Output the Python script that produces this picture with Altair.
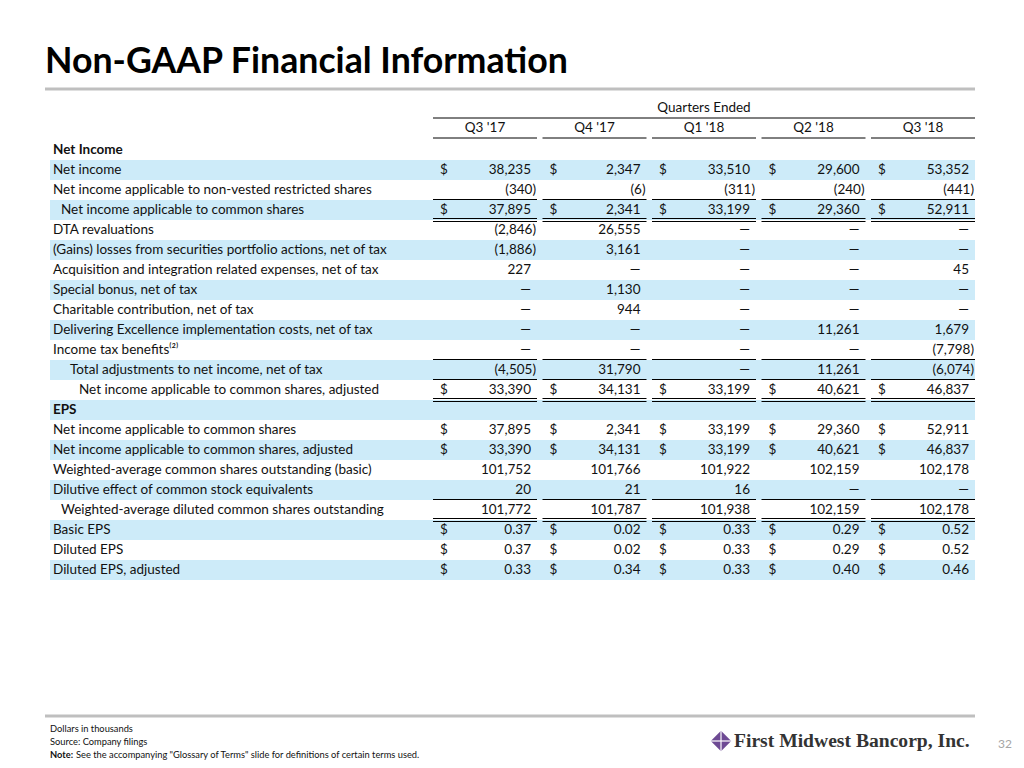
import altair as alt
import pandas as pd

# ---------------- data ----------------
quarters = ["Q3 '17", "Q4 '17", "Q1 '18", "Q2 '18", "Q3 '18"]

labels = [
    "Net Income",
    "Net income",
    "Net income applicable to non-vested restricted shares",
    "Net income applicable to common shares",
    "DTA revaluations",
    "(Gains) losses from securities portfolio actions, net of tax",
    "Acquisition and integration related expenses, net of tax",
    "Special bonus, net of tax",
    "Charitable contribution, net of tax",
    "Delivering Excellence implementation costs, net of tax",
    "Income tax benefits\u207d\u00b2\u207e",
    "Total adjustments to net income, net of tax",
    "Net income applicable to common shares, adjusted",
    "EPS",
    "Net income applicable to common shares",
    "Net income applicable to common shares, adjusted",
    "Weighted-average common shares outstanding (basic)",
    "Dilutive effect of common stock equivalents",
    "Weighted-average diluted common shares outstanding",
    "Basic EPS",
    "Diluted EPS",
    "Diluted EPS, adjusted",
]
bold_rows = [0, 13]
indent_level = {3: 1, 11: 2, 12: 3, 18: 1}
dollar_rows = [1, 3, 12, 14, 15, 19, 20, 21]
eps_rows = [19, 20, 21]
single_under_rows = [2, 10, 11, 17]
double_under_rows = [3, 12, 18]

q3_17 = [None, 38235, -340, 37895, -2846, -1886, 227, 0, 0, 0, 0, -4505, 33390,
         None, 37895, 33390, 101752, 20, 101772, 0.37, 0.37, 0.33]
q4_17 = [None, 2347, -6, 2341, 26555, 3161, 0, 1130, 944, 0, 0, 31790, 34131,
         None, 2341, 34131, 101766, 21, 101787, 0.02, 0.02, 0.34]
q1_18 = [None, 33510, -311, 33199, 0, 0, 0, 0, 0, 0, 0, 0, 33199,
         None, 33199, 33199, 101922, 16, 101938, 0.33, 0.33, 0.33]
q2_18 = [None, 29600, -240, 29360, 0, 0, 0, 0, 0, 11261, 0, 11261, 40621,
         None, 29360, 40621, 102159, 0, 102159, 0.29, 0.29, 0.40]
q3_18 = [None, 53352, -441, 52911, 0, 0, 45, 0, 0, 1679, -7798, -6074, 46837,
         None, 52911, 46837, 102178, 0, 102178, 0.52, 0.52, 0.46]
series = [q3_17, q4_17, q1_18, q2_18, q3_18]

title_text = "Non-GAAP Financial Information"
footer_lines = ["Dollars in thousands", "Source: Company filings"]
note_bold = "Note:"
note_text = "See the accompanying \"Glossary of Terms\" slide for definitions of certain terms used."
company = "First Midwest Bancorp, Inc."
page_no = "32"

# ---------------- tables ----------------
def fmt(v, eps):
    if v == 0:
        return "\u2014"
    if eps:
        return f"{v:.2f}"
    if v < 0:
        return f"({abs(v):,})"
    return f"{v:,}"

cells = []
for c, s in enumerate(series):
    for r, v in enumerate(s):
        if v is None:
            continue
        cells.append({"r": r, "c": c, "text": fmt(v, r in eps_rows),
                      "neg": v < 0, "dollar": r in dollar_rows})
cells = pd.DataFrame(cells)

rows = pd.DataFrame({"r": list(range(len(labels))), "label": labels})
rows["bold"] = rows["r"].isin(bold_rows)
rows["indent"] = rows["r"].map(lambda r: indent_level.get(r, 0))
rows["band"] = rows["r"] % 2 == 1

under = []
for r in single_under_rows:
    for c in range(5):
        under.append({"r": r, "c": c, "k": 0.475})
for r in double_under_rows:
    for c in range(5):
        under.append({"r": r, "c": c, "k": 0.425})
        under.append({"r": r, "c": c, "k": 0.575})
under = pd.DataFrame(under)

hdr = pd.DataFrame({"c": list(range(5)), "q": quarters})
one = pd.DataFrame({"a": [0]})

# ---------------- scales ----------------
W, H = 1008, 752
XS = alt.Scale(domain=[-3.8813, 5.3242], nice=False, zero=False)
YS = alt.Scale(domain=[-7.1, 30.5], nice=False, zero=False, reverse=True)
COLW = 104 / 109.5
FONT = "Lato"
FS = 13.5
INK = "#111111"
BAND = "#CDEBF9"

def X(f="c"):
    return alt.X(f"{f}:Q", scale=XS, axis=None)

def Y(f="r"):
    return alt.Y(f"{f}:Q", scale=YS, axis=None)

layers = []

# row bands
layers.append(
    alt.Chart(rows[rows["band"]]).mark_rect(color=BAND)
    .transform_calculate(r0="datum.r - 0.5", r1="datum.r + 0.5")
    .encode(x=alt.value(42), x2=alt.value(967), y=Y("r0"), y2=alt.Y2("r1"))
)

# row labels
for lvl, dx in [(0, 0), (1, 8), (2, 17), (3, 26)]:
    for b in [False, True]:
        sub = rows[(rows["indent"] == lvl) & (rows["bold"] == b)]
        if len(sub) == 0:
            continue
        layers.append(
            alt.Chart(sub).mark_text(align="left", baseline="middle", font=FONT,
                                     fontSize=FS, color=INK, dx=dx,
                                     fontWeight="bold" if b else "normal")
            .encode(x=alt.value(45), y=Y(), text="label:N")
        )

# numbers
layers.append(
    alt.Chart(cells[~cells["neg"]]).mark_text(align="right", baseline="middle",
                                              font=FONT, fontSize=FS, color=INK, dx=98)
    .encode(x=X(), y=Y(), text="text:N")
)
layers.append(
    alt.Chart(cells[cells["neg"]]).mark_text(align="right", baseline="middle",
                                             font=FONT, fontSize=FS, color=INK, dx=103)
    .encode(x=X(), y=Y(), text="text:N")
)
layers.append(
    alt.Chart(cells[cells["dollar"]]).mark_text(align="left", baseline="middle",
                                                font=FONT, fontSize=FS, color=INK, dx=7)
    .encode(x=X(), y=Y(), text=alt.value("$"))
)

# underlines
layers.append(
    alt.Chart(under).mark_rule(color="#000000", strokeWidth=1)
    .transform_calculate(y="datum.r + datum.k", c2=f"datum.c + {COLW}")
    .encode(x=X(), x2=alt.X2("c2"), y=Y("y"))
)

# column header
layers.append(
    alt.Chart(hdr).mark_text(align="center", baseline="middle", font=FONT,
                             fontSize=FS, color=INK, dx=52)
    .encode(x=X(), y=alt.Y("ry:Q", scale=YS, axis=None), text="q:N")
    .transform_calculate(ry="-1.1")
)
layers.append(
    alt.Chart(hdr).mark_rule(color="#000000", strokeWidth=1)
    .transform_calculate(ry="-0.6", c2=f"datum.c + {COLW}")
    .encode(x=X(), x2=alt.X2("c2"), y=Y("ry"))
)
layers.append(
    alt.Chart(hdr[hdr["c"] == 0]).mark_rule(color="#000000", strokeWidth=1)
    .transform_calculate(ry="-1.6", c2=f"4 + {COLW}")
    .encode(x=X(), x2=alt.X2("c2"), y=Y("ry"))
)
layers.append(
    alt.Chart(hdr[hdr["c"] == 2]).mark_text(align="center", baseline="middle",
                                            font=FONT, fontSize=FS, color=INK, dx=52)
    .transform_calculate(ry="-2.1")
    .encode(x=X(), y=Y("ry"), text=alt.value("Quarters Ended"))
)

# title and rules
layers.append(
    alt.Chart(one).mark_text(align="left", baseline="middle", font=FONT,
                             fontSize=35.7, fontWeight="bold", color="#000000")
    .encode(x=alt.value(37), y=alt.value(54), text=alt.value(title_text))
)
layers.append(
    alt.Chart(one).mark_rule(color="#BFBFBF", strokeWidth=3)
    .encode(x=alt.value(37), x2=alt.value(967), y=alt.value(81))
)
layers.append(
    alt.Chart(one).mark_rule(color="#BFBFBF", strokeWidth=3)
    .encode(x=alt.value(37), x2=alt.value(967), y=alt.value(708))
)

# footer text
for i, t in enumerate(footer_lines):
    layers.append(
        alt.Chart(one).mark_text(align="left", baseline="middle", font=FONT,
                                 fontSize=9.3, color=INK)
        .encode(x=alt.value(42), y=alt.value(721 + 13 * i), text=alt.value(t))
    )
layers.append(
    alt.Chart(one).mark_text(align="left", baseline="middle", font=FONT,
                             fontSize=9.3, fontWeight="bold", color=INK)
    .encode(x=alt.value(42), y=alt.value(747), text=alt.value(note_bold))
)
layers.append(
    alt.Chart(one).mark_text(align="left", baseline="middle", font=FONT,
                             fontSize=9.3, color=INK)
    .encode(x=alt.value(68), y=alt.value(747), text=alt.value(note_text))
)

# logo
layers.append(
    alt.Chart(one).mark_point(shape="diamond", filled=True, size=420,
                              color="#6E4A94", opacity=1)
    .encode(x=alt.value(713), y=alt.value(733))
)
layers.append(
    alt.Chart(one).mark_rule(color="#FFFFFF", strokeWidth=1.2)
    .encode(x=alt.value(703), x2=alt.value(723), y=alt.value(733))
)
layers.append(
    alt.Chart(one).mark_rule(color="#FFFFFF", strokeWidth=1.2)
    .encode(x=alt.value(713), y=alt.value(722), y2=alt.value(744))
)
layers.append(
    alt.Chart(one).mark_text(align="left", baseline="middle", font="Liberation Serif",
                             fontSize=19.6, fontWeight="bold", color="#333333")
    .encode(x=alt.value(726), y=alt.value(733), text=alt.value(company))
)
layers.append(
    alt.Chart(one).mark_text(align="center", baseline="middle", font=FONT,
                             fontSize=12, color="#A6A6A6")
    .encode(x=alt.value(997), y=alt.value(736), text=alt.value(page_no))
)

chart = (
    alt.layer(*layers)
    .properties(width=W, height=H, padding=0,
                autosize=alt.AutoSizeParams(type="none"))
    .configure_view(stroke=None)
)

chart.save("out.html", embed_options={"renderer": "svg", "actions": False})
